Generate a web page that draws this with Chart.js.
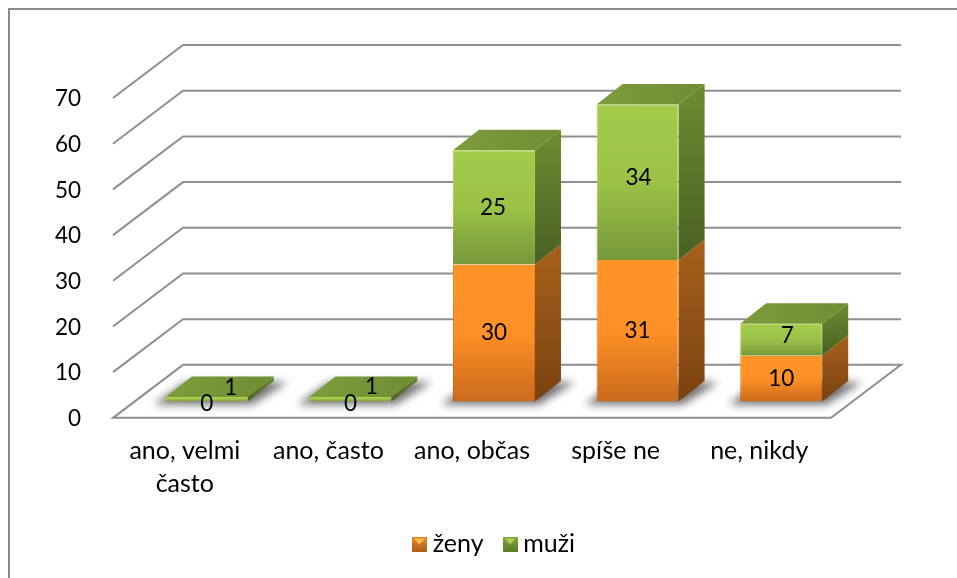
<!DOCTYPE html>
<html><head><meta charset="utf-8">
<style>html,body{margin:0;padding:0;background:#fff}canvas{display:block}</style>
<script src="https://cdn.jsdelivr.net/npm/chart.js@4"></script>
</head><body><canvas id="c" width="957" height="578"></canvas>
<script>
const categories = [["ano, velmi","často"],"ano, často","ano, občas","spíše ne","ne, nikdy"];
const zeny = [0,0,30,31,10];
const muzi = [1,1,25,34,7];
const yTicks = [0,10,20,30,40,50,60,70];
const seriesNames = ["ženy","muži"];

const NUM_FONT = {family:"Lato", size:22.5};
const TXT_FONT = {family:"Lato", size:25};
const WALL = {dx:70, dy:-53};       // depth of the floor and walls
const BAR_SHIFT = {dx:22, dy:-16.3}; // bars stand in the middle of the floor
const BAR_DEPTH = {dx:26, dy:-20.5};
const GRID = "#8f8f8f";
const C = [
  {front:["#ff9426","#ff9026","#cb6a1c"], edge:["#f08a24","#e07e22","#b85e18"], side:["#a8611c","#794210"]},
  {front:["#a3cb4b","#9bc247","#76983a"], edge:["#b0d653","#a5cc4c","#7e9f3e"], side:["#6c8c31","#4a6022"]}
];
// hand-placed offsets of the labels that the original moved off-centre
const labelNudge = [
  [[0,2],[0,2],[0,0],[0,0],[0,0]],
  [[24,-12],[21,-13],[-1,0],[1,-4],[6,-4]]
];
const arrays = [zeny,muzi];

function grad(ctx, top, bottom, stops){
  const g = ctx.createLinearGradient(0,top,0,bottom);
  stops.forEach((s,i)=>g.addColorStop(i/(stops.length-1),s));
  return g;
}
function segFill(kind){
  return c=>{
    const ds=c.datasetIndex, stops=C[ds][kind];
    const y=c.chart.scales && c.chart.scales.y;
    if(c.dataIndex===undefined||!y) return stops[0];
    const start=ds===0?0:zeny[c.dataIndex];
    const end=start+arrays[ds][c.dataIndex];
    return grad(c.chart.ctx,y.getPixelForValue(end),y.getPixelForValue(start),stops);
  };
}
function swatch(i){
  const cv=document.createElement('canvas');cv.width=15;cv.height=15;
  const x=cv.getContext('2d');
  const g=x.createLinearGradient(0,0,0,15);
  g.addColorStop(0,i?'#86a63f':'#e8872a');g.addColorStop(1,i?'#5c7a2c':'#b0601c');
  x.fillStyle=g;x.fillRect(0,0,15,15);
  x.fillStyle=i?'#a9d14e':'#ffc050';
  x.beginPath();x.moveTo(2,2);x.lineTo(13,2);x.lineTo(7.5,8);x.closePath();x.fill();
  return cv;
}
function poly(ctx,pts,fill){
  ctx.beginPath();pts.forEach((p,i)=>i?ctx.lineTo(p[0],p[1]):ctx.moveTo(p[0],p[1]));ctx.closePath();
  ctx.fillStyle=fill;ctx.fill();
}

const scene3d = {
  id:'scene3d',
  afterLayout(chart){
    const l=chart.legend;
    l.left=393;l.right=800;l.top=505.75;l.bottom=505.75+l.height;
  },
  beforeDraw(chart){
    const ctx=chart.ctx,{left,right}=chart.chartArea,y=chart.scales.y;
    ctx.save();
    // outer frame of the chart
    ctx.strokeStyle="#8a8a8a";ctx.lineWidth=2;
    ctx.beginPath();ctx.moveTo(9,578);ctx.lineTo(9,9);ctx.lineTo(957,9);ctx.stroke();
    // walls from the axis ticks
    ctx.strokeStyle=GRID;ctx.lineWidth=2;ctx.lineJoin='miter';
    yTicks.forEach(v=>{
      const p=y.getPixelForValue(v);
      ctx.beginPath();
      ctx.moveTo(left,p);ctx.lineTo(left+WALL.dx,p+WALL.dy);ctx.lineTo(right+WALL.dx,p+WALL.dy);
      if(v===0){ctx.lineTo(right,p);ctx.closePath();}
      ctx.stroke();
    });
    ctx.restore();
  },
  beforeDatasetsDraw(chart){
    const ctx=chart.ctx;
    ctx.save();
    ctx.translate(BAR_SHIFT.dx,BAR_SHIFT.dy);
    const m0=chart.getDatasetMeta(0), m1=chart.getDatasetMeta(1);
    // soft floor shadows
    ctx.save();ctx.filter='blur(4.5px)';
    m0.data.forEach(el=>{
      const {x,base,width}=el.getProps(['x','base','width'],true);
      const l=x-width/2,r=x+width/2;
      poly(ctx,[[l-12,base+3],[r+4,base+3],[r+BAR_DEPTH.dx+14,base+BAR_DEPTH.dy+1],[l+BAR_DEPTH.dx-6,base+BAR_DEPTH.dy+1]],"#707070");
    });
    ctx.restore();
    // side and top faces of each block
    [m0,m1].forEach((m,ds)=>{
      m.data.forEach(el=>{
        const {x,y,base,width}=el.getProps(['x','y','base','width'],true);
        const r=x+width/2,l=x-width/2,d=BAR_DEPTH;
        if(base-y>0.01){
          poly(ctx,[[r,y],[r+d.dx,y+d.dy],[r+d.dx,base+d.dy],[r,base]],grad(ctx,y+d.dy,base,C[ds].side));
        }
        if(ds===1){
          const g=ctx.createLinearGradient(l,0,r+d.dx,0);
          g.addColorStop(0,"#7d9c3c");g.addColorStop(1,"#6f8e35");
          poly(ctx,[[l,y],[r,y],[r+d.dx,y+d.dy],[l+d.dx,y+d.dy]],g);
        }
      });
    });
  },
  afterDatasetsDraw(chart){
    const ctx=chart.ctx;
    ctx.fillStyle="#000";ctx.textAlign='center';ctx.textBaseline='middle';
    ctx.font=NUM_FONT.size+"px "+NUM_FONT.family;
    [0,1].forEach(ds=>{
      chart.getDatasetMeta(ds).data.forEach((el,i)=>{
        const {x,y,base}=el.getProps(['x','y','base'],true);
        const n=labelNudge[ds][i];
        ctx.fillText(String(arrays[ds][i]),x+n[0],(y+base)/2+n[1]);
      });
    });
    ctx.restore();
  }
};

new Chart(document.getElementById('c'),{
  type:'bar',
  data:{labels:categories,datasets:[
    {label:seriesNames[0],data:zeny,backgroundColor:segFill('front'),borderColor:segFill('edge'),
     borderWidth:{left:1,right:1,top:0,bottom:0},borderSkipped:false,clip:false},
    {label:seriesNames[1],data:muzi,backgroundColor:segFill('front'),borderColor:segFill('edge'),
     borderWidth:{left:1,right:1,top:1,bottom:0},borderSkipped:false,clip:false}
  ]},
  options:{
    responsive:false,animation:false,
    layout:{padding:{top:98,right:126,left:0,bottom:0}},
    datasets:{bar:{categoryPercentage:1,barPercentage:0.571}},
    scales:{
      x:{stacked:true,grid:{display:false},border:{display:false},
        afterFit(s){s.height=99.4;},
        ticks:{color:"#000",padding:9,maxRotation:0,autoSkip:false,
               font:{family:TXT_FONT.family,size:TXT_FONT.size,lineHeight:1.32}}},
      y:{stacked:true,min:0,max:70,grid:{display:false},border:{display:false},
        afterFit(s){s.width=113;},
        afterBuildTicks(s){s.ticks=yTicks.map(v=>({value:v}));},
        ticks:{color:"#000",font:NUM_FONT,padding:24,labelOffset:1}}
    },
    plugins:{
      tooltip:{enabled:false},
      legend:{position:'bottom',align:'start',
        labels:{usePointStyle:true,pointStyleWidth:1.5,padding:25.75,color:"#000",font:TXT_FONT,
          generateLabels(){return seriesNames.map((t,i)=>({text:t,datasetIndex:i,hidden:false,pointStyle:swatch(i),fontColor:"#000"}));}}}
    }
  },
  plugins:[scene3d]
});
</script></body></html>
